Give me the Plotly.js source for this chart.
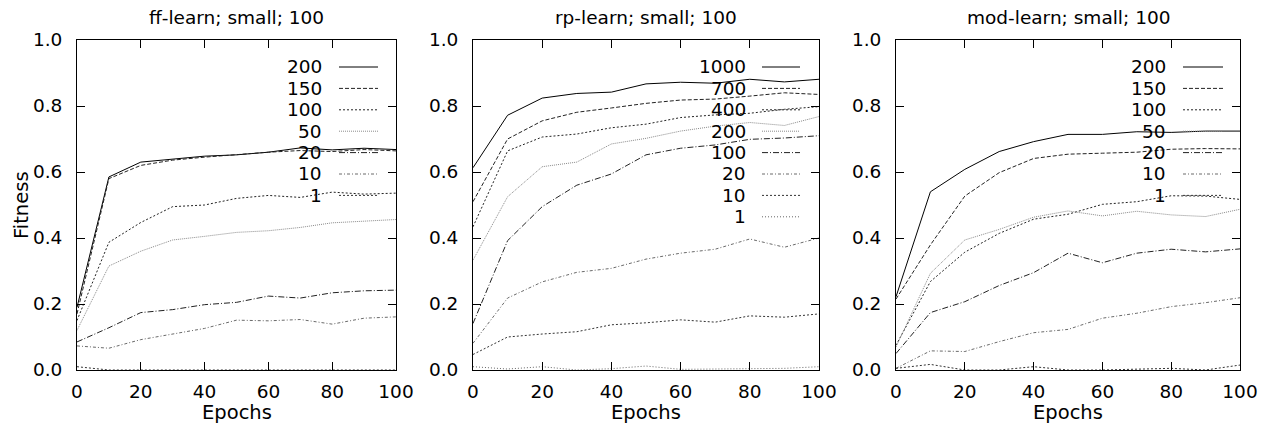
<!DOCTYPE html>
<html>
<head>
<meta charset="utf-8">
<script src="https://cdn.plot.ly/plotly-3.0.1.min.js"></script>
<style>html,body{margin:0;padding:0;background:#fff;}#chart{width:1262px;height:424px;}</style>
</head>
<body>
<div id="chart"></div>
<script>
// ---------- data ----------
const epochs = [0, 10, 20, 30, 40, 50, 60, 70, 80, 90, 100];

const panelTitles = ['ff-learn; small; 100', 'rp-learn; small; 100', 'mod-learn; small; 100'];

const ffLabels = ['200', '150', '100', '50', '20', '10', '1'];
const ff200 = [0.19, 0.585, 0.63, 0.64, 0.648, 0.652, 0.66, 0.673, 0.667, 0.672, 0.668];
const ff150 = [0.17, 0.58, 0.62, 0.636, 0.645, 0.653, 0.66, 0.665, 0.662, 0.668, 0.664];
const ff100 = [0.15, 0.387, 0.447, 0.495, 0.50, 0.52, 0.529, 0.523, 0.539, 0.533, 0.536];
const ff50  = [0.12, 0.315, 0.36, 0.394, 0.405, 0.417, 0.422, 0.432, 0.446, 0.452, 0.456];
const ff20  = [0.085, 0.128, 0.174, 0.183, 0.198, 0.205, 0.224, 0.218, 0.234, 0.24, 0.242];
const ff10  = [0.073, 0.066, 0.092, 0.108, 0.126, 0.151, 0.149, 0.153, 0.139, 0.157, 0.161];
const ff1   = [0.01, 0.0, 0.0, 0.0, 0.0, 0.002, 0.0, 0.0, 0.0, 0.0, 0.0];

const rpLabels = ['1000', '700', '400', '200', '100', '20', '10', '1'];
const rp1000 = [0.613, 0.772, 0.824, 0.838, 0.842, 0.867, 0.872, 0.869, 0.881, 0.873, 0.881];
const rp700  = [0.51, 0.70, 0.755, 0.781, 0.794, 0.808, 0.818, 0.821, 0.83, 0.84, 0.835];
const rp400  = [0.434, 0.664, 0.706, 0.715, 0.734, 0.745, 0.765, 0.773, 0.778, 0.79, 0.798];
const rp200  = [0.333, 0.525, 0.616, 0.63, 0.685, 0.702, 0.724, 0.739, 0.75, 0.741, 0.768];
const rp100  = [0.141, 0.392, 0.495, 0.56, 0.594, 0.652, 0.672, 0.682, 0.699, 0.703, 0.71];
const rp20   = [0.081, 0.218, 0.267, 0.296, 0.308, 0.336, 0.354, 0.366, 0.397, 0.372, 0.40];
const rp10   = [0.047, 0.10, 0.109, 0.116, 0.137, 0.143, 0.152, 0.145, 0.164, 0.16, 0.17];
const rp1    = [0.01, 0.003, 0.01, 0.0, 0.004, 0.012, 0.002, 0.003, 0.005, 0.005, 0.01];

const modLabels = ['200', '150', '100', '50', '20', '10', '1'];
const mod200 = [0.222, 0.54, 0.608, 0.662, 0.692, 0.714, 0.714, 0.722, 0.72, 0.724, 0.724];
const mod150 = [0.215, 0.379, 0.527, 0.598, 0.641, 0.654, 0.657, 0.66, 0.669, 0.671, 0.67];
const mod100 = [0.075, 0.268, 0.357, 0.414, 0.457, 0.472, 0.502, 0.51, 0.528, 0.527, 0.517];
const mod50  = [0.07, 0.293, 0.394, 0.426, 0.463, 0.482, 0.467, 0.481, 0.47, 0.465, 0.487];
const mod20  = [0.05, 0.174, 0.207, 0.256, 0.295, 0.354, 0.325, 0.354, 0.366, 0.358, 0.367];
const mod10  = [0.005, 0.058, 0.056, 0.086, 0.113, 0.123, 0.157, 0.172, 0.192, 0.204, 0.219];
const mod1   = [0.005, 0.017, 0.0, 0.0, 0.01, 0.0, 0.0, 0.002, 0.005, 0.0, 0.015];

const xTicks = [0, 20, 40, 60, 80, 100];
const yTicks = [0, 0.2, 0.4, 0.6, 0.8, 1.0];

// ---------- styles ----------
const S = {
  solid:   {color: '#000000', dash: 'solid'},
  dash:    {color: '#222222', dash: '4px,2px'},
  dot:     {color: '#222222', dash: '2px,2px'},
  grayDot: {color: '#8a8a8a', dash: '1px,1px'},
  dashDot: {color: '#222222', dash: '6px,2px,1px,2px'},
  grayDD:  {color: '#6a6a6a', dash: '3px,2px,1px,2px'},
  fineDot: {color: '#333333', dash: '2px,2px'},
  grayFine:{color: '#666666', dash: '1px,2px'}
};

const panels = [
  {labels: ffLabels, series: [ff200, ff150, ff100, ff50, ff20, ff10, ff1],
   styles: [S.solid, S.dash, S.dot, S.grayDot, S.dashDot, S.grayDD, S.fineDot],
   dom: [77, 396], legText: 324, legLine: [339, 378]},
  {labels: rpLabels, series: [rp1000, rp700, rp400, rp200, rp100, rp20, rp10, rp1],
   styles: [S.solid, S.dash, S.dot, S.grayDot, S.dashDot, S.grayDD, S.fineDot, S.grayFine],
   dom: [473, 819], legText: 748, legLine: [762, 800]},
  {labels: modLabels, series: [mod200, mod150, mod100, mod50, mod20, mod10, mod1],
   styles: [S.solid, S.dash, S.dot, S.grayDot, S.dashDot, S.grayDD, S.fineDot],
   dom: [896, 1240], legText: 1168, legLine: [1183, 1223]}
];

// ---------- layout geometry (pixels) ----------
const PL = 77, PR = 1240, PT = 40, PB = 370;
const px = v => (v - PL) / (PR - PL);
const py = v => (PB - v) / (PB - PT);
const legRow0 = 67, legStep = 21.4;
const FONT = 'DejaVu Sans, Liberation Sans, sans-serif';
const FS = 18.5;
const FS_LABEL = 19.5;

const traces = [];
const annotations = [];
const shapes = [];
const layout = {
  width: 1262, height: 424,
  margin: {l: PL, r: 1262 - PR, t: PT, b: 424 - PB, pad: 0},
  paper_bgcolor: '#ffffff', plot_bgcolor: '#ffffff',
  showlegend: false,
  font: {family: FONT, size: FS, color: '#000'}
};

panels.forEach((p, i) => {
  const n = i === 0 ? '' : String(i + 1);
  const xa = 'x' + n, ya = 'y' + n;
  p.series.forEach((ys, k) => {
    traces.push({
      x: epochs, y: ys, xaxis: xa, yaxis: ya, type: 'scatter', mode: 'lines',
      name: p.labels[k],
      line: {color: p.styles[k].color, dash: p.styles[k].dash, width: 1}
    });
    const rowY = legRow0 + k * legStep;
    annotations.push({
      xref: 'paper', yref: 'paper', x: px(p.legText), y: py(rowY),
      xanchor: 'right', yanchor: 'middle', showarrow: false,
      text: p.labels[k], font: {family: FONT, size: FS, color: '#000'}
    });
    shapes.push({
      type: 'line', xref: 'paper', yref: 'paper',
      x0: px(p.legLine[0]), x1: px(p.legLine[1]), y0: py(rowY), y1: py(rowY),
      line: {color: p.styles[k].color, dash: p.styles[k].dash, width: 1}
    });
  });
  const common = {
    showgrid: false, zeroline: false, showline: true, mirror: 'ticks',
    linecolor: '#000', linewidth: 1, ticks: 'inside', ticklen: 8, tickcolor: '#000',
    tickfont: {family: FONT, size: FS, color: '#000'}
  };
  layout['xaxis' + n] = Object.assign({}, common, {
    domain: [px(p.dom[0]), px(p.dom[1])], range: [0, 100], anchor: ya,
    tickvals: xTicks, ticktext: xTicks.map(String), ticklabelstandoff: 5
  });
  layout['yaxis' + n] = Object.assign({}, common, {
    domain: [0, 1], range: [0, 1], anchor: xa,
    tickvals: yTicks, ticktext: yTicks.map(v => v.toFixed(1)), ticklabelstandoff: 10
  });
  const cx = (p.dom[0] + p.dom[1]) / 2;
  annotations.push({
    xref: 'paper', yref: 'paper', x: px(cx), y: py(17), xanchor: 'center', yanchor: 'middle',
    showarrow: false, text: panelTitles[i], font: {family: FONT, size: FS, color: '#000'}
  });
  annotations.push({
    xref: 'paper', yref: 'paper', x: px(cx), y: py(412), xanchor: 'center', yanchor: 'middle',
    showarrow: false, text: 'Epochs', font: {family: FONT, size: FS_LABEL, color: '#000'}
  });
});

annotations.push({
  xref: 'paper', yref: 'paper', x: px(21), y: py(205), xanchor: 'center', yanchor: 'middle',
  textangle: -90, showarrow: false, text: 'Fitness', font: {family: FONT, size: FS_LABEL, color: '#000'}
});

layout.annotations = annotations;
layout.shapes = shapes;

Plotly.newPlot('chart', traces, layout, {staticPlot: true, displayModeBar: false});
</script>
</body>
</html>
